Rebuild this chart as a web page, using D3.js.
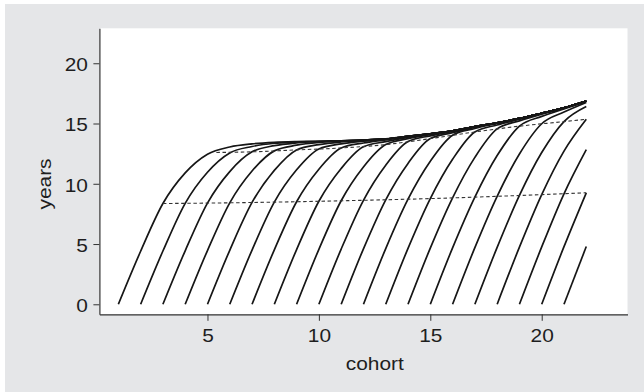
<!DOCTYPE html>
<html><head><meta charset="utf-8">
<script src="https://cdn.jsdelivr.net/npm/d3@7"></script>
<style>html,body{margin:0;padding:0;background:#fff;} svg{display:block}</style>
</head><body>
<script>
// cohort each curve starts at
const cohortStarts = [1,2,3,4,5,6,7,8,9,10,11,12,13,14,15,16,17,18,19,20,21];
// years at cohort = start, start+1, ..., 22
const yearsByCohort = [
  [0,4.40,8.36,10.90,12.45,13.05,13.31,13.44,13.50,13.53,13.57,13.62,13.72,13.93,14.15,14.40,14.74,15.06,15.42,15.85,16.30,16.87],
  [0,4.42,8.38,10.96,12.56,13.09,13.36,13.46,13.53,13.57,13.62,13.72,13.93,14.15,14.40,14.74,15.06,15.42,15.85,16.30,16.87],
  [0,4.44,8.40,11.01,12.65,13.16,13.39,13.50,13.57,13.62,13.72,13.93,14.15,14.40,14.74,15.06,15.42,15.85,16.30,16.87],
  [0,4.46,8.42,11.06,12.73,13.20,13.43,13.54,13.62,13.72,13.93,14.15,14.40,14.74,15.06,15.42,15.85,16.30,16.87],
  [0,4.48,8.45,11.11,12.81,13.25,13.47,13.59,13.72,13.93,14.15,14.40,14.74,15.06,15.42,15.85,16.30,16.87],
  [0,4.50,8.48,11.16,12.89,13.31,13.53,13.69,13.93,14.15,14.40,14.74,15.06,15.42,15.85,16.30,16.87],
  [0,4.52,8.51,11.21,12.97,13.38,13.64,13.91,14.15,14.40,14.74,15.06,15.42,15.85,16.30,16.87],
  [0,4.54,8.55,11.27,13.07,13.50,13.85,14.13,14.40,14.74,15.06,15.42,15.85,16.30,16.87],
  [0,4.56,8.59,11.39,13.25,13.74,14.08,14.38,14.74,15.06,15.42,15.85,16.30,16.87],
  [0,4.58,8.63,11.54,13.50,13.98,14.34,14.72,15.06,15.42,15.85,16.30,16.87],
  [0,4.60,8.67,11.69,13.75,14.24,14.68,15.04,15.42,15.85,16.30,16.87],
  [0,4.62,8.72,11.87,14.03,14.59,15.01,15.41,15.85,16.30,16.87],
  [0,4.64,8.77,12.03,14.30,14.88,15.36,15.83,16.30,16.87],
  [0,4.66,8.83,12.19,14.55,15.22,15.78,16.28,16.87],
  [0,4.68,8.89,12.34,14.78,15.59,16.21,16.84],
  [0,4.70,8.96,12.47,14.98,15.95,16.75],
  [0,4.72,9.03,12.59,15.16,16.41],
  [0,4.74,9.10,12.71,15.35],
  [0,4.76,9.17,12.83],
  [0,4.78,9.25],
  [0,4.79]
];
// dashed reference lines
const lowerDashX = [3,6,9,12,15,18,20,22];
const lowerDashY = [8.36,8.42,8.51,8.63,8.77,8.96,9.10,9.25];
const upperDashX = [5.4,7,9,11,13,15,17,19,21,22];
const upperDashY = [12.60,12.65,12.81,12.97,13.25,13.75,14.30,14.78,15.16,15.35];
const xTicks = [5,10,15,20];
const yTicks = [0,5,10,15,20];
const xTitle = "cohort", yTitle = "years";

const W = 644, H = 392;
const PL = 99.4, PR = 627.5, PT = 28.3, PB = 314.3;
const FONT = "'Liberation Sans', Arial, Helvetica, sans-serif";
const FS = 18, SX = 1.16, TXT = "#1e1e1e";

const svg = d3.select("body").append("svg").attr("width", W).attr("height", H);
svg.append("rect").attr("x",0).attr("y",0).attr("width",W).attr("height",H).attr("fill","#ffffff");
svg.append("rect").attr("x",5).attr("y",4).attr("width",W-5).attr("height",H-4).attr("fill","#e5e6e8");
svg.append("rect").attr("x",PL).attr("y",PT).attr("width",PR-PL).attr("height",PB-PT).attr("fill","#ffffff");

const x = d3.scaleLinear().domain([0.15, 23.85]).range([PL, PR]);
const y = d3.scaleLinear().domain([-0.83, 22.9]).range([PB, PT]);

// curves
const g = svg.append("g");
yearsByCohort.forEach((vals, ci) => {
  const k = cohortStarts[ci];
  const line = d3.line().x((d,i)=>x(k+i)).y(d=>y(d)).curve(d3.curveMonotoneX);
  g.append("path").attr("d", line(vals)).attr("fill","none")
    .attr("stroke","#161616").attr("stroke-width",1.7).attr("stroke-linejoin","round");
});
// dashed
const dl = d3.line().x(d=>x(d[0])).y(d=>y(d[1])).curve(d3.curveMonotoneX);
[[lowerDashX, lowerDashY],[upperDashX, upperDashY]].forEach(([xs, ys]) => {
  g.append("path").attr("d", dl(xs.map((v,i)=>[v, ys[i]]))).attr("fill","none")
    .attr("stroke","#333").attr("stroke-width",1.1).attr("stroke-dasharray","3.5,2.6");
});

// axes
const ya = svg.append("g").attr("transform",`translate(${PL},0)`)
  .call(d3.axisLeft(y).tickValues(yTicks).tickSize(6).tickSizeOuter(0).tickFormat(d3.format("d")));
const xa = svg.append("g").attr("transform",`translate(0,${PB})`)
  .call(d3.axisBottom(x).tickValues(xTicks).tickSize(6.5).tickSizeOuter(0).tickFormat(d3.format("d")));
[ya, xa].forEach(a => {
  a.select(".domain").attr("stroke","#333").attr("stroke-width",1.2);
  a.selectAll(".tick line").attr("stroke","#333").attr("stroke-width",1);
  a.selectAll(".tick text").attr("font-family",FONT).attr("font-size",FS).attr("fill",TXT);
});
ya.selectAll(".tick text").attr("x",0).attr("dy",null).attr("y",0)
  .attr("transform",`translate(-11.5,7.3) scale(${SX},1)`).attr("text-anchor","end");
xa.selectAll(".tick text").attr("x",0).attr("dy",null).attr("y",0)
  .attr("transform",`translate(0,27.5) scale(${SX},1)`).attr("text-anchor","middle");

svg.append("text").text(xTitle).attr("font-family",FONT).attr("font-size",FS).attr("fill",TXT)
  .attr("text-anchor","middle").attr("transform",`translate(374.8,369.5) scale(${SX},1)`);
svg.append("text").text(yTitle).attr("font-family",FONT).attr("font-size",FS).attr("fill",TXT)
  .attr("text-anchor","middle").attr("transform",`translate(50.5,184) rotate(-90) scale(${SX},1)`);
</script>
</body></html>
